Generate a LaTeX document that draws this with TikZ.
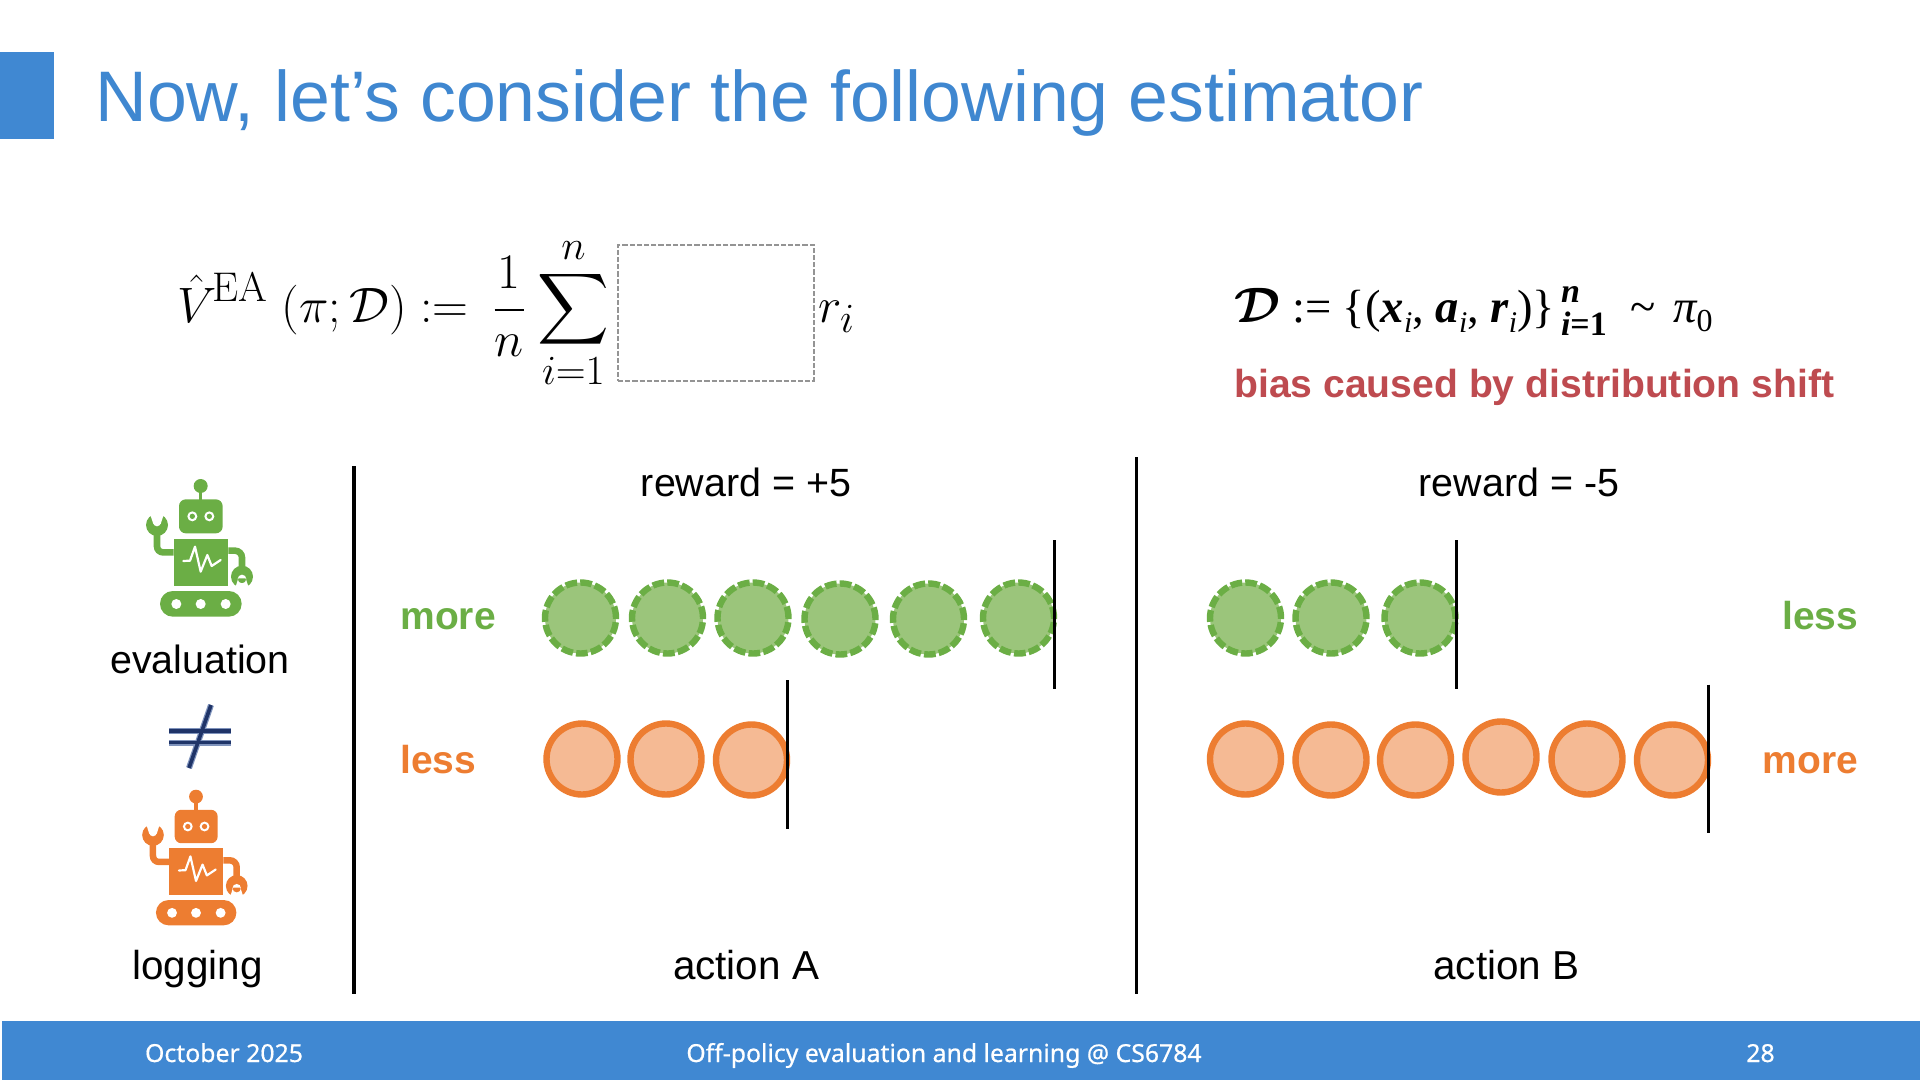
\documentclass[tikz,border=0pt]{standalone}
\usepackage{amsmath}
\usepackage[no-math]{fontspec}
\setmainfont{Liberation Sans}
\newfontfamily\tnr{Liberation Serif}
\newfontfamily\foot[FakeBold=0.6]{Noto Sans}
\definecolor{ttl}{HTML}{3F87D0}
\definecolor{bar}{HTML}{4088D2}
\definecolor{gr}{HTML}{6BAE45}
\definecolor{grf}{HTML}{9BC57B}
\definecolor{og}{HTML}{ED7D31}
\definecolor{ogf}{HTML}{F5BA94}
\definecolor{rd}{HTML}{BE4B50}
\definecolor{neqa}{HTML}{7F93BC}
\definecolor{neqb}{HTML}{1F3468}
\newcommand{\fs}[1]{\fontsize{#1}{#1}\selectfont}
\newcommand{\bi}[1]{{\bfseries\itshape #1}}
\newcommand{\subi}{\raisebox{-.22em}{\fs{15}\itshape i}}
\newcommand{\drawrobot}[4]{%
\begin{scope}[shift={(#1,#2)},x=#4*0.16667pt,y=-#4*0.16667pt,#3]
 \fill (272,78) circle[radius=21];
 \fill (267,90) rectangle (277,125);
 \fill[rounded corners=#4*3.4pt] (207,118) rectangle (338,220);
 \fill[white] (247,169) circle[radius=15] (298,169) circle[radius=15];
 \fill (247,169) circle[radius=8] (298,169) circle[radius=8];
 \fill (191,236) rectangle (355,378);
 \draw[white,line width=#4*1.1pt,line join=round,line cap=round] (220,303)--(240,302)--(255,260)--(272,335)--(292,285)--(305,318)--(332,300);
 \draw[line width=#4*3.3pt,rounded corners=#4*3pt] (191,277)--(141,277)--(141,205);
 \draw[line width=#4*3.3pt,rounded corners=#4*3.5pt] (355,272)--(396,272)--(396,335);
 \fill (141,195) circle[radius=33];
 \fill[white] (141,188) circle[radius=11] (130,192)--(118,155)--(164,155)--(152,192)--cycle;
 \fill (396,350) circle[radius=33];
 \fill[white] (396,357) circle[radius=13] (385,355)--(372,395)--(420,395)--(407,355)--cycle;
 \fill[rounded corners=#4*6.4pt] (150,393) rectangle (395,470);
 \fill[white] (199,432) circle[radius=15] (272,432) circle[radius=15] (347,432) circle[radius=15];
\end{scope}}
\tikzset{
 gdot/.style={circle,draw=gr,fill=grf,line width=3.2pt,dash pattern=on 5.8pt off 1.6pt,minimum size=35.5pt,inner sep=0pt},
 odot/.style={circle,draw=og,fill=ogf,line width=3.2pt,minimum size=35.5pt,inner sep=0pt},
 lab/.style={inner sep=0pt,anchor=base,font=\fs{19.7}},
 labb/.style={inner sep=0pt,anchor=base,font=\fs{20.2}},
 glab/.style={inner sep=0pt,font=\fs{19.5}\bfseries,text=gr},
 olab/.style={inner sep=0pt,font=\fs{19.5}\bfseries,text=og},
 ftxt/.style={inner sep=0pt,anchor=base,text=white,font=\foot\fs{12.4}},
 rule/.style={black,line width=1.6pt},
 neqo/.style={line width=3pt,color=neqa},
 neqi/.style={line width=1.8pt,color=neqb},
}
\begin{document}
\begin{tikzpicture}[x=0.5pt,y=-0.5pt]
\useasboundingbox (0,0) rectangle (1920,1080);
\fill[bar] (0,52) rectangle (54,139);
\fill[bar] (2,1021) rectangle (1920,1080);
\node[inner sep=0pt,anchor=base west,text=ttl,font=\fs{35.8}] (title) at (95,122) {Now, let’s consider the following estimator};
% formula
\node[inner sep=0pt,anchor=base west,font=\fs{27.2}] (fa) at (177,322) {$\displaystyle \hat V^{\mkern-2mu\mathrm{EA}}\;(\pi;\mathcal D) :=\hspace{4.8pt} \frac{1}{n}\hspace{1.5pt}\sum_{i=1}^{n}\hspace{100.3pt} r_i$};
\node[draw=black!42,dash pattern=on 2.6pt off 1pt,line width=1.2pt,minimum width=98pt,minimum height=68pt,inner sep=0pt] (bx) at (716,313) {};
\node[inner sep=0pt,anchor=base west,font=\tnr\fs{23.3}] (fb) at (1234,322) {$\boldsymbol{\mathcal D}$ := \{(\bi{x}\subi, \bi{a}\subi, \bi{r}\subi)\}\hspace{3pt}\rlap{\raisebox{.42em}{\fs{17}\bi{n}}}\raisebox{-.3em}{\fs{17}\bi{i}\bfseries =1}\hspace{6pt} \textasciitilde\hspace{3pt} {\itshape π}\raisebox{-.2em}{\fs{16}0}};
\node[inner sep=0pt,anchor=base west,text=rd,font=\fs{19.55}\bfseries] (bias) at (1234,397) {bias caused by distribution shift};
% rules
\coordinate (r1a) at (354,466); \coordinate (r1b) at (354,994);
\coordinate (r2a) at (1136.5,457); \coordinate (r2b) at (1136.5,994);
\draw[rule] (r1a)--(r1b);
\draw[rule] (r2a)--(r2b);
% robots
\drawrobot{110}{460}{gr,fill=gr,draw=gr}{1}
\drawrobot{106.7}{771}{og,fill=og,draw=og}{0.985}
\node[lab] (ev) at (200,673) {evaluation};
\node[labb] (lg) at (197.5,979) {logging};
% not equal
\coordinate (n1a) at (169,731); \coordinate (n1b) at (231,731);
\coordinate (n2a) at (169,742.5); \coordinate (n2b) at (231,742.5);
\coordinate (n3a) at (211,705); \coordinate (n3b) at (189,768);
\foreach \s in {neqo,neqi}{\draw[\s] (n1a)--(n1b); \draw[\s] (n2a)--(n2b); \draw[\s] (n3a)--(n3b);}
% labels
\node[lab] (r5) at (746,496.5) {reward = +5};
\node[lab] (r5n) at (1519,496.5) {reward = -5};
\node[labb] (aa) at (746,979) {action A};
\node[labb] (ab) at (1506.5,979) {action B};
\node[glab,anchor=base west] (more) at (400,629) {more};
\node[olab,anchor=base west] (less) at (400,773) {less};
\node[glab,anchor=base east] (less2) at (1858.5,629) {less};
\node[olab,anchor=base east] (more2) at (1858.5,773) {more};
% dots
\foreach \x/\y [count=\i] in {580.5/618,667.5/618,753/618,840/619,928.5/619,1018.5/618,1245.5/618,1331/618,1420/618}
  \node[gdot] (g\i) at (\x,\y) {};
\foreach \x/\y [count=\i] in {582/759,666/759,751.5/760,1245.5/759,1331/760,1415.5/760,1501/757,1587/759,1672.5/760}
  \node[odot] (o\i) at (\x,\y) {};
% markers
\coordinate (m1a) at (1054.5,540); \coordinate (m1b) at (1054.5,689);
\coordinate (m2a) at (787.5,680); \coordinate (m2b) at (787.5,829);
\coordinate (m3a) at (1456,540); \coordinate (m3b) at (1456,689);
\coordinate (m4a) at (1708,684.5); \coordinate (m4b) at (1708,833);
\draw[black,line width=1.5pt] (m1a)--(m1b);
\draw[black,line width=1.4pt] (m2a)--(m2b);
\draw[black,line width=1.5pt] (m3a)--(m3b);
\draw[black,line width=1.5pt] (m4a)--(m4b);
% footer
\node[ftxt] (f1) at (224,1062) {October 2025};
\node[ftxt] (f2) at (944,1062) {Off-policy evaluation and learning @ CS6784};
\node[ftxt] (f3) at (1760.5,1062) {28};
\end{tikzpicture}
\end{document}
